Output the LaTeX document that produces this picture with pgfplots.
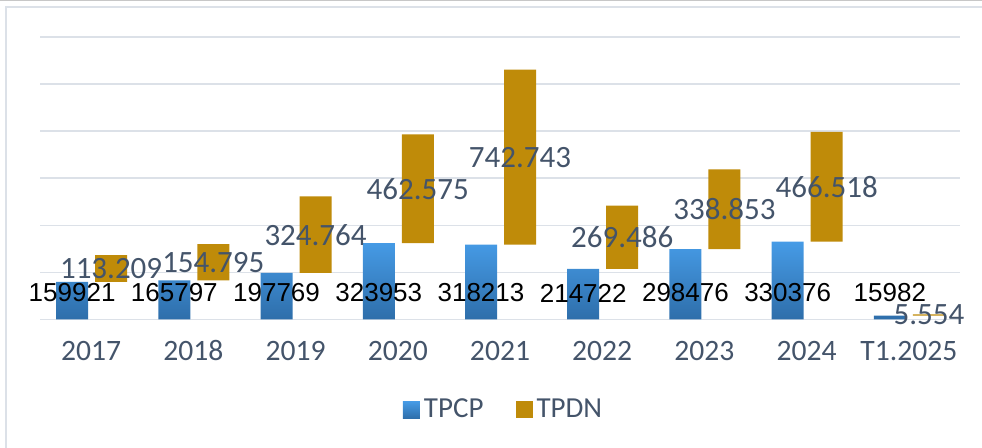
\documentclass[border=0pt]{standalone}
\usepackage{fontspec}
\setmainfont{Carlito}
\newfontfamily\arialf{Liberation Sans}
\usepackage{pgfplots}
\usepackage{pgfplotstable}
\pgfplotsset{compat=1.18}
\definecolor{slate}{HTML}{44546A}
\definecolor{goldbar}{RGB}{191,139,9}
\definecolor{bluetop}{HTML}{469BE6}
\definecolor{bluebot}{HTML}{2E6EAA}
\definecolor{gridc}{HTML}{DCE1E8}
\pgfplotsset{sqlegend/.style={legend image code/.code={\path[##1,draw=none] (0pt,-4.25pt) rectangle (8.5pt,4.25pt);}}}
\pgfplotstableread{
x tpcp tpdn tpdnlab
0 159921 113209 113.209
1 165797 154795 154.795
2 197769 324764 324.764
3 323953 462575 462.575
4 318213 742743 742.743
5 214722 269486 269.486
6 298476 338853 338.853
7 330376 466518 466.518
8 15982 5554 5.554
}\data
\begin{document}
\begin{tikzpicture}
\useasboundingbox (-20pt,-64.25pt) rectangle (471pt,159.75pt);
\draw[color=gridc, line width=0.75pt] (-17pt,-64.25pt) -- (-17pt,156.25pt) -- (471pt,156.25pt);
\draw[color=black!22, line width=0.75pt] (-20pt,159.4pt) -- (471pt,159.4pt);
\begin{axis}[
  scale only axis, width=460pt, height=141.25pt,
  ybar stacked, bar width=16pt,
  xmin=-0.5, xmax=8.5, ymin=0, ymax=1200000,
  axis line style={draw=none},
  tick style={draw=none},
  scaled y ticks=false,
  ymajorgrids, ytick={0,200000,400000,600000,800000,1000000,1200000},
  yticklabels={}, 
  grid style={color=gridc, line width=0.75pt},
  xtick={0,...,8},
  xticklabels={2017,2018,2019,2020,2021,2022,2023,2024,T1.2025},
  major tick length=0pt,
  xticklabel style={anchor=base, yshift=-20.75pt, font=\fontsize{14.8}{16}\selectfont, text=slate},
  clip=false,
  legend style={at={(0.505,-0.32)}, anchor=center, draw=none, fill=none,
    legend columns=2, font=\fontsize{14.5}{16}\selectfont, text=slate,
    /tikz/every even column/.append style={column sep=14pt}},
  legend cell align=left,
]
\addplot[bar shift=-9.5pt, top color=bluetop, bottom color=bluebot, draw=none, sqlegend] table[x=x,y=tpcp]{\data};
\addplot[bar shift=10pt, fill=goldbar, draw=none, sqlegend] table[x=x,y=tpdn]{\data};
\legend{TPCP,TPDN}
\end{axis}
\begin{axis}[
  scale only axis, width=460pt, height=141.25pt,
  xmin=-0.5, xmax=8.5, ymin=0, ymax=1200000,
  hide axis, clip=false,
]
\addplot[only marks, mark=none, nodes near coords, point meta=explicit symbolic,
  every node near coord/.style={anchor=center, xshift=-9.5pt, font=\arialf\fontsize{13}{15}\selectfont, text=black}]
  table[x=x, y expr=112600, meta=tpcp]{\data};
\addplot[only marks, mark=none, nodes near coords, point meta=explicit symbolic,
  every node near coord/.style={anchor=center, xshift=10pt, font=\fontsize{15.5}{17}\selectfont, text=slate}]
  table[x=x, y expr=\thisrow{tpcp}+0.5*\thisrow{tpdn}, meta=tpdnlab]{\data};
\end{axis}
\end{tikzpicture}
\end{document}
